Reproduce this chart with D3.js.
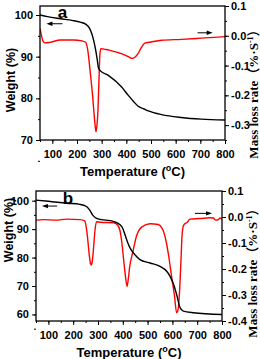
<!DOCTYPE html>
<html>
<head>
<meta charset="utf-8">
<script src="https://cdn.jsdelivr.net/npm/d3@7"></script>
<style>
  body { margin: 0; background: #fff; }
  .axis text { font-family: "Liberation Sans", Arial, sans-serif; font-weight: bold; font-size: 11px; fill: #000; }
  .axis line { stroke: #000; stroke-width: 1; }
  .title { font-family: "Liberation Sans", Arial, sans-serif; font-weight: bold; fill: #000; }
  .rtitle { font-family: "Liberation Serif", "Times New Roman", "Noto Sans CJK SC", serif; font-weight: bold; fill: #000; }
</style>
</head>
<body>
<div id="chart"></div>
<script>
// x ticks shared by both panels
const tempTicks = [100, 200, 300, 400, 500, 600, 700, 800];

// panel a
const weightTicksA = [70, 80, 90, 100];
const rateTicksA = [0.1, 0.0, -0.1, -0.2, -0.3];
const tgaTempA = [50, 80, 133, 180, 213, 235, 250, 260, 268, 275, 282, 287, 295, 327, 381, 408, 430, 448, 470, 489, 543, 623, 704, 800];
const tgaWeightA = [100.0, 99.6, 99.1, 98.7, 98.3, 97.8, 96.9, 95.5, 93.8, 91.8, 89.3, 87.3, 86.6, 85.5, 82.7, 80.7, 79.2, 78.1, 77.5, 77.0, 76.1, 75.4, 75.0, 74.8];
const dtgTempA = [50, 55, 62, 70, 90, 133, 186, 220, 235, 243, 254, 262, 268, 274, 277, 281, 285, 289, 293, 297, 310, 330, 368, 390, 408, 424, 435, 448, 462, 475, 500, 543, 623, 704, 800];
const dtgRateA = [0.025, 0.005, -0.018, -0.024, -0.022, -0.014, -0.014, -0.017, -0.022, -0.045, -0.125, -0.19, -0.25, -0.305, -0.322, -0.30, -0.25, -0.15, -0.06, -0.043, -0.045, -0.048, -0.057, -0.063, -0.070, -0.076, -0.072, -0.059, -0.038, -0.025, -0.021, -0.015, -0.012, -0.008, -0.003];

// panel b
const weightTicksB = [60, 70, 80, 90, 100];
const rateTicksB = [0.1, 0.0, -0.1, -0.2, -0.3, -0.4];
const tgaTempB = [50, 100, 174, 227, 245, 258, 268, 278, 290, 300, 362, 389, 400, 409, 420, 429, 449, 469, 510, 550, 577, 590, 605, 617, 631, 644, 684, 800];
const tgaWeightB = [100.2, 99.8, 99.1, 98.7, 98.3, 97.6, 96.5, 95.0, 94.0, 93.6, 92.7, 91.5, 90.2, 88.0, 85.2, 83.4, 81.0, 79.3, 78.1, 76.9, 75.2, 73.5, 70.5, 67.0, 62.4, 61.2, 60.6, 60.0];
const dtgTempB = [50, 80, 130, 174, 227, 245, 252, 258, 264, 270, 273, 277, 282, 288, 294, 310, 362, 378, 388, 396, 404, 411, 417, 422, 428, 440, 456, 476, 510, 543, 556, 566, 576, 585, 597, 608, 617, 622, 628, 634, 639, 645, 660, 671, 711, 750, 765, 775, 785, 792, 800];
const dtgRateB = [-0.012, -0.010, -0.012, -0.008, -0.010, -0.014, -0.035, -0.08, -0.14, -0.18, -0.185, -0.17, -0.12, -0.05, -0.018, -0.02, -0.022, -0.03, -0.05, -0.097, -0.17, -0.23, -0.267, -0.24, -0.19, -0.136, -0.071, -0.039, -0.026, -0.029, -0.04, -0.06, -0.10, -0.15, -0.23, -0.30, -0.368, -0.36, -0.30, -0.18, -0.07, -0.032, -0.02, -0.008, -0.006, -0.003, -0.004, -0.012, -0.01, -0.004, -0.008];

const width = 260, height = 359;

const svg = d3.select('#chart').append('svg')
    .attr('width', width)
    .attr('height', height);

const rateFormat = d => (d < 0 ? '-' : '') + Math.abs(d).toFixed(1);

function drawPanel(p) {
  const g = svg.append('g');
  const x = d3.scaleLinear().domain([50, 800]).range([p.left, p.right]);
  const yW = d3.scaleLinear().domain(p.weightDomain).range([p.bottom, p.top]);
  const yR = d3.scaleLinear().domain(p.rateDomain).range([p.bottom, p.top]);

  // minor ticks
  g.append('g').attr('class', 'axis')
      .attr('transform', 'translate(0,' + p.bottom + ')')
      .call(d3.axisBottom(x).tickValues(d3.range(50, 801, 50)).tickSize(2).tickFormat(''));
  g.append('g').attr('class', 'axis')
      .attr('transform', 'translate(' + p.left + ',0)')
      .call(d3.axisLeft(yW).tickValues(d3.range(p.weightTicks[0] - 5, 101, 5)).tickSize(2).tickFormat(''));
  g.append('g').attr('class', 'axis')
      .attr('transform', 'translate(' + p.right + ',0)')
      .call(d3.axisRight(yR).tickValues(d3.range(-0.4, 0.11, 0.05).filter(v => v >= p.rateDomain[0] - 1e-9)).tickSize(2).tickFormat(''));

  // major ticks
  g.append('g').attr('class', 'axis')
      .attr('transform', 'translate(0,' + p.bottom + ')')
      .call(d3.axisBottom(x).tickValues(tempTicks).tickSize(4).tickPadding(6));
  g.append('g').attr('class', 'axis')
      .attr('transform', 'translate(' + p.left + ',0)')
      .call(d3.axisLeft(yW).tickValues(p.weightTicks).tickSize(4).tickPadding(3));
  g.append('g').attr('class', 'axis')
      .attr('transform', 'translate(' + p.right + ',0)')
      .call(d3.axisRight(yR).tickValues(p.rateTicks).tickSize(4).tickPadding(2).tickFormat(rateFormat));

  g.selectAll('.axis .domain').remove();

  g.append('clipPath').attr('id', 'clip' + p.name)
    .append('rect')
      .attr('x', p.left).attr('y', p.top)
      .attr('width', p.right - p.left).attr('height', p.bottom - p.top);

  const plot = g.append('g').attr('clip-path', 'url(#clip' + p.name + ')');

  const tgaLine = d3.line()
      .x(d => x(d[0]))
      .y(d => yW(d[1]))
      .curve(d3.curveMonotoneX);
  const dtgLine = d3.line()
      .x(d => x(d[0]))
      .y(d => yR(d[1]))
      .curve(d3.curveMonotoneX);

  plot.append('path')
      .datum(d3.zip(p.dtgTemp, p.dtgRate))
      .attr('fill', 'none')
      .attr('stroke', '#ff0000')
      .attr('stroke-width', 1.4)
      .attr('d', dtgLine);

  plot.append('path')
      .datum(d3.zip(p.tgaTemp, p.tgaWeight))
      .attr('fill', 'none')
      .attr('stroke', '#000')
      .attr('stroke-width', 1.4)
      .attr('d', tgaLine);

  g.append('rect')
      .attr('x', p.left).attr('y', p.top)
      .attr('width', p.right - p.left).attr('height', p.bottom - p.top)
      .attr('fill', 'none')
      .attr('stroke', '#000')
      .attr('stroke-width', 1.3);

  // arrows pointing to the matching axis
  function arrow(x1, x2, y) {
    const dir = x2 > x1 ? 1 : -1;
    g.append('line')
        .attr('x1', x1).attr('x2', x2 - dir * 4)
        .attr('y1', y).attr('y2', y)
        .attr('stroke', '#000').attr('stroke-width', 1);
    g.append('path')
        .attr('d', 'M' + x2 + ',' + y + 'l' + (-dir * 6) + ',-2.2l0,4.4z')
        .attr('fill', '#000');
  }
  arrow(x(p.leftArrow[1]), x(p.leftArrow[0]), yW(p.leftArrow[2]));
  arrow(x(p.rightArrow[0]), x(p.rightArrow[1]), yR(p.rightArrow[2]));

  g.append('text')
      .attr('class', 'title')
      .attr('x', x(p.letter[0]))
      .attr('y', p.letter[1])
      .attr('text-anchor', 'middle')
      .style('font-size', '17px')
      .text(p.name);

  const xt = g.append('text')
      .attr('class', 'title')
      .attr('x', (p.left + p.right) / 2)
      .attr('y', p.bottom + 36)
      .attr('text-anchor', 'middle')
      .style('font-size', '13px');
  xt.append('tspan').text('Temperature (');
  xt.append('tspan').attr('dy', -5).style('font-size', '9px').text('o');
  xt.append('tspan').attr('dy', 5).text('C)');

  g.append('text')
      .attr('class', 'title')
      .attr('transform', 'translate(' + p.wTitle[0] + ',' + p.wTitle[1] + ') rotate(-90)')
      .attr('text-anchor', 'middle')
      .style('font-size', '12.5px')
      .text('Weight (%)');

  const rt = g.append('text')
      .attr('class', 'rtitle')
      .attr('transform', 'translate(' + p.rTitle[0] + ',' + p.rTitle[1] + ') rotate(-90)')
      .attr('text-anchor', 'middle')
      .style('font-size', '13px');
  rt.append('tspan').text('Mass loss rate（%·S');
  rt.append('tspan').attr('dy', -5).style('font-size', '8px').text('-1');
  rt.append('tspan').attr('dy', 5).text('）');
}

drawPanel({
  name: 'a', left: 40, right: 225, top: 6, bottom: 140,
  weightDomain: [70, 102.16], rateDomain: [-0.35, 0.1],
  weightTicks: weightTicksA, rateTicks: rateTicksA,
  tgaTemp: tgaTempA, tgaWeight: tgaWeightA, dtgTemp: dtgTempA, dtgRate: dtgRateA,
  leftArrow: [76, 141, 97.9], rightArrow: [689, 750, 0.01],
  letter: [141, 18], wTitle: [15, 80], rTitle: [258, 91]
});

drawPanel({
  name: 'b', left: 36, right: 222, top: 191, bottom: 321,
  weightDomain: [57.7, 103.4], rateDomain: [-0.4, 0.1],
  weightTicks: weightTicksB, rateTicks: rateTicksB,
  tgaTemp: tgaTempB, tgaWeight: tgaWeightB, dtgTemp: dtgTempB, dtgRate: dtgRateB,
  leftArrow: [74, 135, 98.1], rightArrow: [691, 760, 0.014],
  letter: [179, 204], wTitle: [12.5, 230], rTitle: [257, 270]
});
</script>
</body>
</html>
